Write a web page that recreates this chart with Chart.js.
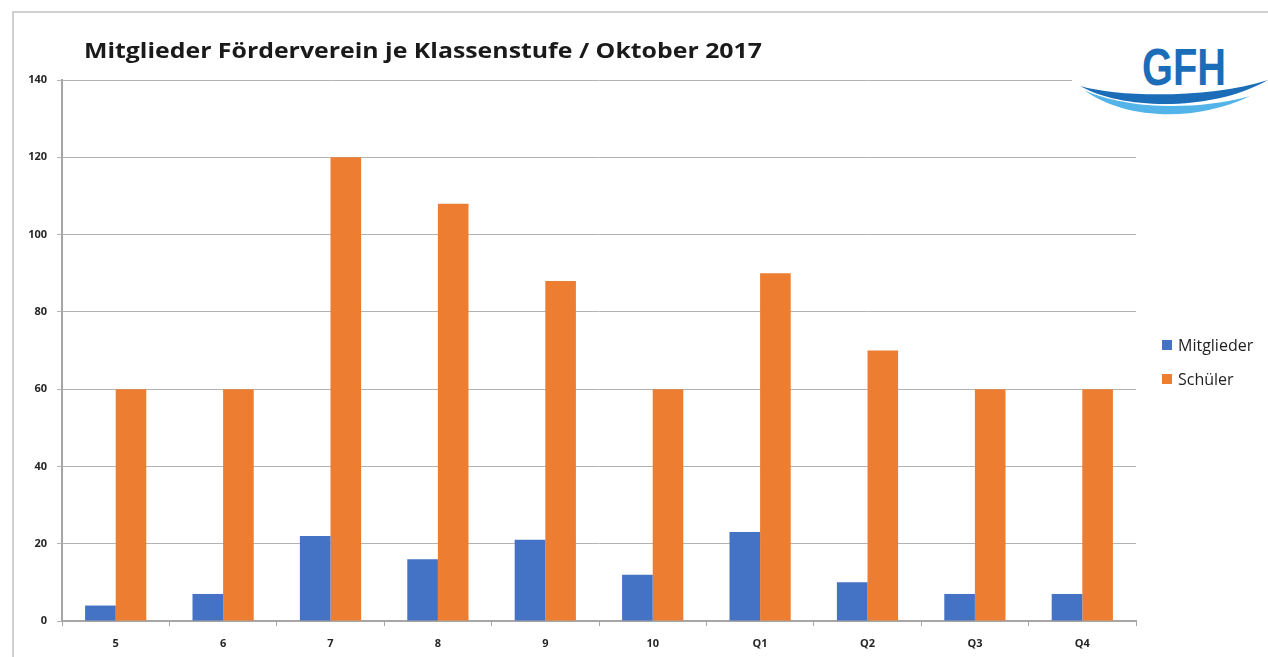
<!DOCTYPE html>
<html>
<head>
<meta charset="utf-8">
<title>Mitglieder Förderverein</title>
<script src="https://cdn.jsdelivr.net/npm/chart.js@4/dist/chart.umd.min.js"></script>
<style>
  html, body { margin: 0; padding: 0; background: #fff; }
  #wrap { position: relative; width: 1268px; height: 657px; overflow: hidden; }
  #frame { position: absolute; left: 12px; top: 11px; width: 1300px; height: 700px;
    border-left: 2px solid #d0d0d0; border-top: 2px solid #d0d0d0; }
  #chart { position: absolute; left: 0; top: 0; }
  #logo { position: absolute; left: 1072px; top: 36px; }
</style>
</head>
<body>
<div id="wrap">
  <div id="frame"></div>
  <canvas id="chart" width="1268" height="657"></canvas>
  <svg id="logo" width="196" height="84" viewBox="0 0 196 84">
    <rect x="0" y="0" width="196" height="84" fill="#fff"/>
    <text x="70" y="49" font-family="Liberation Sans Narrow, Liberation Sans, sans-serif" font-weight="bold"
      font-size="52" fill="#1b6db8" textLength="84" lengthAdjust="spacingAndGlyphs">GFH</text>
    <path d="M12,54 C50,82 120,88 178,60 C120,76 50,72 12,54 Z" fill="#52b4e8"/>
    <path d="M8,50 C50,62 140,62 196,44 C140,76 50,74 8,50 Z" fill="#1b6db8"/>
  </svg>
</div>
<script>
var titleText = 'Mitglieder Förderverein je Klassenstufe / Oktober 2017';
var klassen = ['5', '6', '7', '8', '9', '10', 'Q1', 'Q2', 'Q3', 'Q4'];
var mitglieder = [4, 7, 22, 16, 21, 12, 23, 10, 7, 7];
var schueler = [60, 60, 120, 108, 88, 60, 90, 70, 60, 60];
var seriesNames = ['Mitglieder', 'Schüler'];
var yTicks = [0, 20, 40, 60, 80, 100, 120, 140];

var fontFamily = "'Open Sans', 'Liberation Sans', sans-serif";

// title and legend are drawn by hand so they land where the original has them
var decorPlugin = {
  id: 'decor',
  afterDraw: function (chart) {
    var ctx = chart.ctx;
    ctx.save();
    ctx.fillStyle = '#1a1a1a';
    ctx.font = 'bold 22px ' + fontFamily;
    ctx.textBaseline = 'middle';
    ctx.textAlign = 'left';
    // stretch the title to the width it has in the original
    var w = ctx.measureText(titleText).width;
    ctx.translate(84, 52);
    ctx.scale(678 / w, 1);
    ctx.fillText(titleText, 0, 0);
    ctx.restore();

    ctx.save();
    var items = chart.data.datasets;
    ctx.font = '16px ' + fontFamily;
    ctx.textBaseline = 'middle';
    for (var i = 0; i < items.length; i++) {
      var y = 345 + i * 34;
      ctx.fillStyle = items[i].backgroundColor;
      ctx.fillRect(1162, y - 5, 10, 10);
      ctx.fillStyle = '#1f1f1f';
      ctx.fillText(items[i].label, 1178, y + 1);
    }
    ctx.restore();
  }
};

var ctx = document.getElementById('chart').getContext('2d');
var chart = new Chart(ctx, {
  type: 'bar',
  data: {
    labels: klassen,
    datasets: [{
      label: seriesNames[0],
      data: mitglieder,
      backgroundColor: '#4472C4',
      barPercentage: 1.0,
      categoryPercentage: 0.57
    }, {
      label: seriesNames[1],
      data: schueler,
      backgroundColor: '#ED7D31',
      barPercentage: 1.0,
      categoryPercentage: 0.57
    }]
  },
  options: {
    responsive: false,
    animation: false,
    layout: {
      padding: { left: 0, right: 132, top: 80, bottom: 0 }
    },
    plugins: {
      legend: { display: false },
      title: { display: false },
      tooltip: { enabled: false }
    },
    scales: {
      x: {
        afterFit: function (scale) { scale.height = 36; },
        grid: {
          offset: true,
          drawOnChartArea: false,
          tickLength: 5,
          color: '#a6a6a6'
        },
        border: { color: '#a6a6a6', width: 2 },
        ticks: {
          color: '#262626',
          padding: 11,
          font: { family: fontFamily, size: 11, weight: 'bold' }
        }
      },
      y: {
        min: 0,
        max: 140,
        afterFit: function (scale) { scale.width = 62; },
        afterBuildTicks: function (scale) {
          scale.ticks = yTicks.map(function (v) { return { value: v }; });
        },
        grid: {
          color: '#b3b3b3',
          tickLength: 5,
          lineWidth: 1
        },
        border: { color: '#a6a6a6', width: 2 },
        ticks: {
          color: '#262626',
          padding: 10,
          font: { family: fontFamily, size: 11, weight: 'bold' }
        }
      }
    }
  },
  plugins: [decorPlugin]
});
</script>
</body>
</html>
